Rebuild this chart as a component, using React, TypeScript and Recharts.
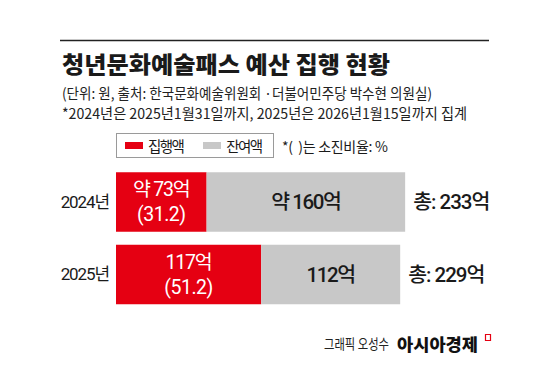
import React from "react";
import { BarChart, Bar, XAxis, YAxis, LabelList, Legend } from "recharts";

const years = ["2024년", "2025년"];
const executed = [73, 117];
const remaining = [160, 112];
const totals = [233, 229];
const executedLabels = ["약 73억", "117억"];
const ratios = ["(31.2)", "(51.2)"];
const remainingLabels = ["약 160억", "112억"];
const seriesNames = ["집행액", "잔여액"];

const title = "청년문화예술패스 예산 집행 현황";
const subtitle1 = "(단위: 원, 출처: 한국문화예술위원회 ·더불어민주당 박수현 의원실)";
const subtitle2 = "*2024년은 2025년1월31일까지, 2025년은 2026년1월15일까지 집계";
const ratioNote = "*(\u00a0\u00a0)는 소진비율: %";
const creditName = "그래픽 오성수";
const creditBrand = "아시아경제";

const data = years.map((y, i) => ({
  year: y,
  executed: executed[i],
  remaining: remaining[i],
  redLabel: executedLabels[i] + "\n" + ratios[i],
  greyLabel: remainingLabels[i],
  totalLabel: "총: " + totals[i] + "억",
}));

const FONT = "'Noto Sans CJK KR', 'Noto Sans', sans-serif";
const FONT_NUM = "Roboto, 'Noto Sans CJK KR', sans-serif";
const RED = "#e50012";
const GREY = "#c8c8c8";
const INK = "#1a1a1a";

const YearTick = (props: any) => {
  const { x, y, payload } = props;
  return (
    <text
      x={x + 1}
      y={y}
      textAnchor="end"
      dominantBaseline="central"
      fontFamily={FONT_NUM}
      fontSize={17}
      letterSpacing={-1.1}
      fill={INK}
    >
      {payload.value}
    </text>
  );
};

const RedLabel = (props: any) => {
  const { x, y, width, height, value } = props;
  const lines = String(value).split("\n");
  const cx = x + width / 2;
  const cy = y + height / 2;
  return (
    <text textAnchor="middle" fontFamily={FONT_NUM} fontSize={19.5} fill="#ffffff">
      <tspan x={cx} y={cy - 12.5} dominantBaseline="central" letterSpacing={-1.2}>
        {lines[0]}
      </tspan>
      <tspan x={cx} y={cy + 12.5} dominantBaseline="central" letterSpacing={-0.5}>
        {lines[1]}
      </tspan>
    </text>
  );
};

const GreyLabel = (props: any) => {
  const { x, y, width, height, value } = props;
  return (
    <text x={x + width / 2} y={y + height / 2} textAnchor="middle" dominantBaseline="central" fontFamily={FONT_NUM} fontSize={20.5} fontWeight={500} letterSpacing={-1.4} fill={INK}>
      {value}
    </text>
  );
};

const TotalLabel = (props: any) => {
  const { x, y, width, height, value } = props;
  return (
    <text x={x + width + 8} y={y + height / 2} textAnchor="start" dominantBaseline="central" fontFamily={FONT_NUM} fontSize={20.5} fontWeight={500} letterSpacing={-1} fill={INK}>
      {value}
    </text>
  );
};

const LegendContent = (props: any) => {
  const payload = [...(props.payload || [])].sort(
    (a: any, b: any) => seriesNames.indexOf(a.value) - seriesNames.indexOf(b.value)
  );
  return (
    <div style={{ display: "flex", alignItems: "center", fontFamily: FONT, color: INK }}>
      <div
        style={{
          boxSizing: "border-box",
          width: 158,
          height: 25,
          border: "1px solid #9a9a9a",
          display: "flex",
          alignItems: "center",
          paddingLeft: 8,
        }}
      >
        {payload.map((p: any, i: number) => (
          <div key={i} style={{ display: "flex", alignItems: "center", marginLeft: i === 0 ? 0 : 20 }}>
            <div style={{ width: 18, height: 7, background: p.color }} />
            <span style={{ marginLeft: 5, fontSize: 14.5, letterSpacing: -1.6, lineHeight: "16px" }}>{p.value}</span>
          </div>
        ))}
      </div>
      <span style={{ marginLeft: 8, fontSize: 14, letterSpacing: -0.3, lineHeight: "16px" }}>{ratioNote}</span>
    </div>
  );
};

export default function App() {
  return (
    <div style={{ position: "absolute", left: 0, top: 0, width: 550, height: 365, background: "#ffffff", overflow: "hidden" }}>
      <svg width={550} height={365} style={{ position: "absolute", left: 0, top: 0 }}>
        <line x1={60} x2={489} y1={40.5} y2={40.5} stroke="#222" strokeWidth={1.6} />
        <text x={62} y={63} dominantBaseline="central" fontFamily={FONT} fontSize={23} fontWeight={900} fill={INK} textLength={328} lengthAdjust="spacingAndGlyphs">
          {title}
        </text>
        <text x={62} y={92} dominantBaseline="central" fontFamily={FONT} fontSize={14.5} fill="#222" textLength={370} lengthAdjust="spacingAndGlyphs">
          {subtitle1}
        </text>
        <text x={62} y={112} dominantBaseline="central" fontFamily={FONT} fontSize={14.5} fill="#222" textLength={405} lengthAdjust="spacingAndGlyphs">
          {subtitle2}
        </text>
        <text x={324} y={343} dominantBaseline="central" fontFamily={FONT} fontSize={14} fill="#222" textLength={65} lengthAdjust="spacingAndGlyphs">
          {creditName}
        </text>
        <text x={397} y={343} dominantBaseline="central" fontFamily={FONT} fontSize={17} fontWeight={900} fill="#111" textLength={81} lengthAdjust="spacingAndGlyphs">
          {creditBrand}
        </text>
        <path d="M485.5 334.5 h5 v6 h-5 z" fill="none" stroke={RED} strokeWidth={1.2} />
      </svg>
      <div style={{ position: "absolute", left: 0, top: 0 }}>
        <BarChart
          layout="vertical"
          width={550}
          height={365}
          data={data}
          margin={{ top: 165.25, right: 61.7, bottom: 54.75, left: 56 }}
          barSize={59.5}
        >
          <XAxis type="number" domain={[0, 300]} hide />
          <YAxis type="category" dataKey="year" width={60} axisLine={false} tickLine={false} tick={<YearTick />} />
          <Legend
            layout="horizontal"
            verticalAlign="middle"
            align="center"
            content={<LegendContent />}
            wrapperStyle={{ position: "absolute", left: 116, top: 133, width: "auto", height: "auto" }}
          />
          <Bar dataKey="executed" name={seriesNames[0]} stackId="a" fill={RED} isAnimationActive={false}>
            <LabelList dataKey="redLabel" content={<RedLabel />} />
          </Bar>
          <Bar dataKey="remaining" name={seriesNames[1]} stackId="a" fill={GREY} isAnimationActive={false}>
            <LabelList dataKey="greyLabel" content={<GreyLabel />} />
            <LabelList dataKey="totalLabel" content={<TotalLabel />} />
          </Bar>
        </BarChart>
      </div>
    </div>
  );
}
